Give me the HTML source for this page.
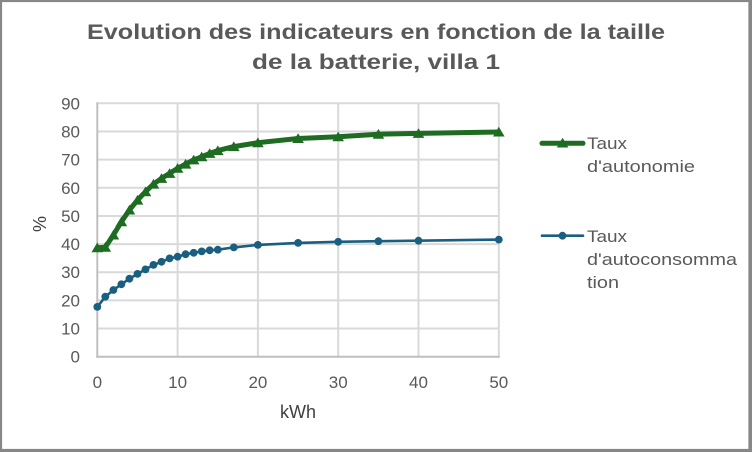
<!DOCTYPE html>
<html>
<head>
<meta charset="utf-8">
<style>
html,body{margin:0;padding:0;background:#fff;}
svg{display:block;}
text{font-family:"Liberation Sans",sans-serif;}
</style>
</head>
<body>
<svg width="752" height="452" viewBox="0 0 752 452" xmlns="http://www.w3.org/2000/svg">
<defs>
<marker id="tri" markerUnits="userSpaceOnUse" markerWidth="14" markerHeight="14" refX="7" refY="7" viewBox="0 0 14 14" overflow="visible">
<path d="M1.2,11.5 L12.8,11.5 L7,1.8 Z" fill="#1e6b22"/>
</marker>
<marker id="dot" markerUnits="userSpaceOnUse" markerWidth="10" markerHeight="10" refX="5" refY="5" viewBox="0 0 10 10" overflow="visible">
<circle cx="5" cy="5" r="3.9" fill="#1a5e80"/>
</marker>
</defs>
<rect x="0" y="0" width="752" height="452" fill="#fff"/>
<!-- border -->
<rect x="1" y="1" width="748.5" height="449" fill="none" stroke="#878787" stroke-width="2.2"/>
<rect x="749" y="0" width="3" height="452" fill="#878787"/>
<rect x="0" y="450" width="752" height="2" fill="#878787"/>

<!-- title -->
<text x="376" y="39" text-anchor="middle" font-size="21" font-weight="bold" fill="#595959" textLength="578" lengthAdjust="spacingAndGlyphs">Evolution des indicateurs en fonction de la taille</text>
<text x="376" y="69" text-anchor="middle" font-size="21" font-weight="bold" fill="#595959" textLength="248" lengthAdjust="spacingAndGlyphs">de la batterie, villa 1</text>

<!-- gridlines -->
<g stroke="#d9d9d9" stroke-width="2">
<line x1="97.3" y1="103.3" x2="498.8" y2="103.3"/>
<line x1="97.3" y1="131.5" x2="498.8" y2="131.5"/>
<line x1="97.3" y1="159.6" x2="498.8" y2="159.6"/>
<line x1="97.3" y1="187.8" x2="498.8" y2="187.8"/>
<line x1="97.3" y1="216.0" x2="498.8" y2="216.0"/>
<line x1="97.3" y1="244.1" x2="498.8" y2="244.1"/>
<line x1="97.3" y1="272.2" x2="498.8" y2="272.2"/>
<line x1="97.3" y1="300.4" x2="498.8" y2="300.4"/>
<line x1="97.3" y1="328.5" x2="498.8" y2="328.5"/>
<line x1="177.6" y1="103.3" x2="177.6" y2="356.7"/>
<line x1="257.9" y1="103.3" x2="257.9" y2="356.7"/>
<line x1="338.2" y1="103.3" x2="338.2" y2="356.7"/>
<line x1="418.5" y1="103.3" x2="418.5" y2="356.7"/>
<line x1="498.8" y1="103.3" x2="498.8" y2="356.7"/>
</g>
<!-- axes -->
<g stroke="#bfbfbf" stroke-width="2">
<line x1="97.3" y1="102.3" x2="97.3" y2="357.7"/>
<line x1="96.3" y1="356.7" x2="499.8" y2="356.7"/>
</g>

<!-- y tick labels -->
<g font-size="17" fill="#595959" text-anchor="end">
<text x="80" y="109.3">90</text>
<text x="80" y="137.5">80</text>
<text x="80" y="165.6">70</text>
<text x="80" y="193.8">60</text>
<text x="80" y="222.0">50</text>
<text x="80" y="250.1">40</text>
<text x="80" y="278.2">30</text>
<text x="80" y="306.4">20</text>
<text x="80" y="334.5">10</text>
<text x="80" y="362.7">0</text>
</g>
<!-- x tick labels -->
<g font-size="17" fill="#595959" text-anchor="middle">
<text x="97.3" y="388">0</text>
<text x="177.6" y="388">10</text>
<text x="257.9" y="388">20</text>
<text x="338.2" y="388">30</text>
<text x="418.5" y="388">40</text>
<text x="498.8" y="388">50</text>
</g>
<!-- axis titles -->
<text x="298" y="418" font-size="18" fill="#404040" text-anchor="middle">kWh</text>
<text transform="translate(46,224) rotate(-90)" font-size="18" fill="#404040" text-anchor="middle">%</text>

<!-- series: autoconsommation -->
<polyline fill="none" stroke="#1a5e80" stroke-width="2.6" stroke-linejoin="round"
marker-start="url(#dot)" marker-mid="url(#dot)" marker-end="url(#dot)"
points="97.3,306.9 105.3,296.7 113.4,290.0 121.4,284.3 129.4,278.7 137.5,273.9 145.5,269.4 153.5,264.9 161.5,261.8 169.6,258.4 177.6,256.7 185.6,254.2 193.7,252.8 201.7,251.4 209.7,250.3 217.8,249.7 233.8,247.4 257.9,244.9 298.1,242.9 338.2,241.8 378.4,241.2 418.5,240.7 498.8,239.6"/>

<!-- series: autonomie -->
<polyline fill="none" stroke="#1e6b22" stroke-width="5" stroke-linejoin="round" stroke-linecap="round"
marker-start="url(#tri)" marker-mid="url(#tri)" marker-end="url(#tri)"
points="97.3,247.7 105.3,247.2 113.4,235.0 121.4,221.8 129.4,210.0 137.5,200.1 145.5,191.7 153.5,184.1 161.5,178.4 169.6,173.4 177.6,168.3 185.6,164.1 193.7,159.9 201.7,156.8 209.7,153.4 217.8,150.6 233.8,146.6 257.9,142.7 298.1,138.5 338.2,136.8 378.4,134.2 418.5,133.4 498.8,132.0"/>

<!-- legend -->
<line x1="542" y1="143.3" x2="583" y2="143.3" stroke="#1e6b22" stroke-width="5" stroke-linecap="round"/>
<path d="M556.8,147.5 L568.4,147.5 L562.6,137.8 Z" fill="#1e6b22"/>
<text x="587" y="149" font-size="17" fill="#595959" textLength="40" lengthAdjust="spacingAndGlyphs">Taux</text>
<text x="587" y="172" font-size="17" fill="#595959" textLength="108" lengthAdjust="spacingAndGlyphs">d'autonomie</text>

<line x1="542" y1="235.7" x2="583" y2="235.7" stroke="#1a5e80" stroke-width="2.6" stroke-linecap="round"/>
<circle cx="562.5" cy="235.7" r="3.9" fill="#1a5e80"/>
<text x="587" y="242" font-size="17" fill="#595959" textLength="40" lengthAdjust="spacingAndGlyphs">Taux</text>
<text x="587" y="265" font-size="17" fill="#595959" textLength="150" lengthAdjust="spacingAndGlyphs">d'autoconsomma</text>
<text x="587" y="288" font-size="17" fill="#595959" textLength="32" lengthAdjust="spacingAndGlyphs">tion</text>
</svg>
</body>
</html>
